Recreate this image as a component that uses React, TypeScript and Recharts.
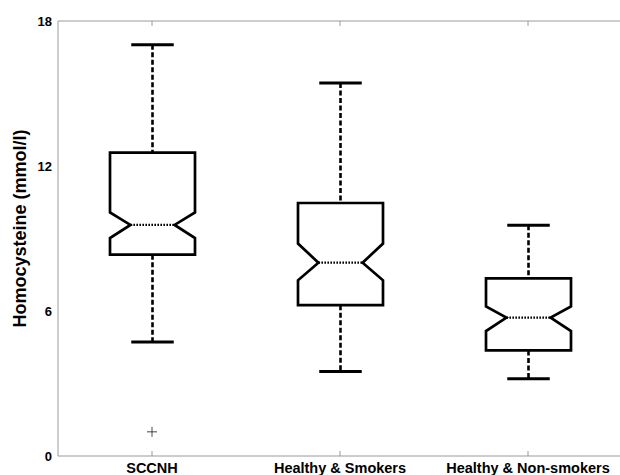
import { Bar, ComposedChart, Scatter, XAxis, YAxis } from "recharts";

const groups = ["SCCNH", "Healthy & Smokers", "Healthy & Non-smokers"];
const whiskerLow = [4.72, 3.5, 3.2];
const q1 = [8.33, 6.24, 4.37];
const notchLow = [9.02, 7.27, 5.17];
const median = [9.56, 8.0, 5.73];
const notchHigh = [10.08, 8.79, 6.19];
const q3 = [12.55, 10.47, 7.35];
const whiskerHigh = [17.02, 15.43, 9.55];
const outliers = [1.0, null, null];
const yTicks = [0, 6, 12, 18];

const rows = groups.map((name, i) => ({
  name,
  range: [whiskerLow[i], whiskerHigh[i]],
  whiskerLow: whiskerLow[i],
  q1: q1[i],
  notchLow: notchLow[i],
  median: median[i],
  notchHigh: notchHigh[i],
  q3: q3[i],
  whiskerHigh: whiskerHigh[i],
  outlier: outliers[i],
}));

const FONT = "'Liberation Sans', Arial, Helvetica, sans-serif";
const AXIS = "#9a9a9a";
const hiddenTick = { fill: "transparent", fontSize: 1 };

// notched box drawn inside the floating bar (whisker low -> whisker high)
function BoxShape(props: any) {
  const { x, y, width, height, payload } = props;
  const top = Math.min(y, y + height);
  const bottom = Math.max(y, y + height);
  const lo = payload.whiskerLow;
  const hi = payload.whiskerHigh;
  const py = (v: number) => bottom - ((v - lo) / (hi - lo)) * (bottom - top);
  const cx = x + width / 2;
  const l = x;
  const r = x + width;
  const nIn = (width / 2) * 0.52;
  const cap = (width / 2) * 0.5;
  const pts = [
    [l, py(payload.q3)],
    [r, py(payload.q3)],
    [r, py(payload.notchHigh)],
    [cx + nIn, py(payload.median)],
    [r, py(payload.notchLow)],
    [r, py(payload.q1)],
    [l, py(payload.q1)],
    [l, py(payload.notchLow)],
    [cx - nIn, py(payload.median)],
    [l, py(payload.notchHigh)],
  ]
    .map((p) => p.join(","))
    .join(" ");
  return (
    <g>
      <line x1={cx} x2={cx} y1={py(hi)} y2={py(payload.q3)} stroke="#000" strokeWidth={2.6} strokeDasharray="5 2.5" />
      <line x1={cx} x2={cx} y1={py(payload.q1)} y2={py(lo)} stroke="#000" strokeWidth={2.6} strokeDasharray="5 2.5" />
      <line x1={cx - cap} x2={cx + cap} y1={py(hi)} y2={py(hi)} stroke="#000" strokeWidth={3} />
      <line x1={cx - cap} x2={cx + cap} y1={py(lo)} y2={py(lo)} stroke="#000" strokeWidth={3} />
      <polygon points={pts} fill="#fff" stroke="#000" strokeWidth={2.7} strokeLinejoin="miter" />
      <line x1={cx - nIn} x2={cx + nIn} y1={py(payload.median)} y2={py(payload.median)} stroke="#000" strokeWidth={2.2} strokeDasharray="1.6 1.4" />
    </g>
  );
}

function PlusShape(props: any) {
  const { cx, cy, payload } = props;
  if (payload == null || payload.outlier == null || !isFinite(cy)) return <g />;
  return (
    <g stroke="#333" strokeWidth={0.9}>
      <line x1={cx - 5} x2={cx + 5} y1={cy} y2={cy} />
      <line x1={cx} x2={cx} y1={cy - 5} y2={cy + 5} />
    </g>
  );
}

function YLabel(props: any) {
  const { viewBox } = props;
  const x = viewBox.x + 20;
  const y = viewBox.y + viewBox.height / 2 - 10;
  return (
    <text
      x={x}
      y={y}
      transform={`rotate(-90, ${x}, ${y})`}
      textAnchor="middle"
      dominantBaseline="central"
      fontFamily={FONT}
      fontWeight="bold"
      fontSize={18}
      fill="#000"
    >
      Homocysteine (mmol/l)
    </text>
  );
}

export default function App() {
  return (
    <div style={{ position: "absolute", left: 0, top: 0, width: 620, height: 475, overflow: "hidden", background: "#fff" }}>
      <ComposedChart width={640} height={475} data={rows} margin={{ top: 21, right: 18, bottom: 0, left: 0 }}>
        <XAxis
          xAxisId="bottom"
          dataKey="name"
          height={19}
          tickLine={false}
          tickSize={0}
          tickMargin={7}
          axisLine={{ stroke: AXIS }}
          tick={{ fill: "#000", fontSize: 14.5, fontWeight: 700, fontFamily: FONT }}
          interval={0}
        />
        <XAxis xAxisId="bottomTicks" dataKey="name" mirror tick={hiddenTick} tickSize={5} tickLine={{ stroke: AXIS }} axisLine={false} interval={0} />
        <XAxis xAxisId="top" dataKey="name" orientation="top" mirror tick={hiddenTick} tickSize={5} tickLine={{ stroke: AXIS }} axisLine={{ stroke: AXIS }} interval={0} />
        <YAxis
          yAxisId="left"
          type="number"
          domain={[0, 18]}
          ticks={yTicks}
          width={58}
          tickLine={false}
          tickSize={0}
          tickMargin={6}
          axisLine={{ stroke: AXIS }}
          tick={{ fill: "#000", fontSize: 13, fontWeight: 700, fontFamily: FONT, style: { fontWeight: 700 } }}
          label={YLabel}
        />
        <YAxis yAxisId="leftTicks" type="number" domain={[0, 18]} ticks={yTicks} mirror tick={hiddenTick} tickSize={5} tickLine={{ stroke: AXIS }} axisLine={false} />
        <YAxis yAxisId="right" orientation="right" type="number" domain={[0, 18]} ticks={yTicks} mirror tick={hiddenTick} tickSize={5} tickLine={{ stroke: AXIS }} axisLine={{ stroke: AXIS }} />
        <Bar xAxisId="bottom" yAxisId="left" dataKey="range" barSize={85} shape={BoxShape} isAnimationActive={false} />
        <Scatter xAxisId="bottom" yAxisId="left" dataKey="outlier" shape={PlusShape} isAnimationActive={false} />
      </ComposedChart>
    </div>
  );
}
